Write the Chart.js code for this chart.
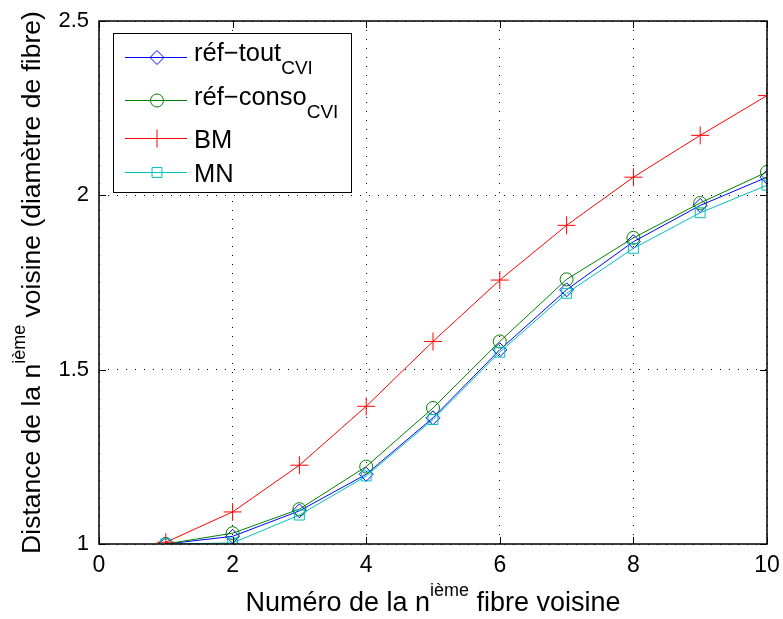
<!DOCTYPE html>
<html>
<head>
<meta charset="utf-8">
<script src="https://cdn.jsdelivr.net/npm/chart.js@4.4.0/dist/chart.umd.min.js"></script>
<style>
  html, body { margin: 0; padding: 0; background: #fff; }
  #wrap { width: 783px; height: 619px; }
</style>
</head>
<body>
<div id="wrap"><canvas id="chart" width="783" height="619"></canvas></div>
<script>
const rangs = [1, 2, 3, 4, 5, 6, 7, 8, 9, 10];
const refTout = [1.0, 1.022, 1.095, 1.200, 1.362, 1.557, 1.729, 1.867, 1.971, 2.052];
const refConso = [1.0, 1.031, 1.100, 1.222, 1.390, 1.581, 1.759, 1.878, 1.978, 2.067];
const bm = [1.005, 1.092, 1.226, 1.395, 1.581, 1.757, 1.914, 2.052, 2.172, 2.286];
const mn = [1.0, 1.003, 1.083, 1.195, 1.357, 1.550, 1.719, 1.848, 1.950, 2.029];
const xTicks = [0, 2, 4, 6, 8, 10];
const yTicks = [1, 1.5, 2, 2.5];

const POLICE = "'Liberation Sans', Arial, Helvetica, sans-serif";

// legende : [texte, indice, couleur, style, rayon]
const legende = [
  ['réf−tout', 'CVI', '#0000ff', 'rectRot', 7],
  ['réf−conso', 'CVI', '#008000', 'circle', 6.5],
  ['BM', '', '#ff0000', 'cross', 9],
  ['MN', '', '#00bfbf', 'rect', 7]
];

function serie(data, couleur, style, rayon, ordre) {
  return {
    data: rangs.map((r, i) => ({ x: r, y: data[i] })),
    borderColor: couleur,
    backgroundColor: 'rgba(0,0,0,0)',
    borderWidth: 1,
    pointStyle: style,
    pointRadius: rayon,
    pointBorderColor: couleur,
    pointBackgroundColor: 'rgba(0,0,0,0)',
    pointBorderWidth: 1,
    tension: 0,
    order: ordre
  };
}

// texte avec exposant / indice
function texteRiche(ctx, parts, x, y, taille, align, petit) {
  const fonts = parts.map(p => (p[1] ? petit : taille) + 'px ' + POLICE);
  let w = 0;
  parts.forEach((p, i) => { ctx.font = fonts[i]; w += ctx.measureText(p[0]).width; });
  let cx = align === 'center' ? x - w / 2 : x;
  ctx.textAlign = 'left';
  ctx.textBaseline = 'alphabetic';
  parts.forEach((p, i) => {
    ctx.font = fonts[i];
    const dy = p[1] === 'sup' ? -15 : p[1] === 'sub' ? 13 : 0;
    ctx.fillText(p[0], cx, y + dy);
    cx += ctx.measureText(p[0]).width;
  });
}

const habillage = {
  id: 'habillage',
  afterDraw(chart) {
    const { ctx, chartArea: a, scales: { x, y } } = chart;
    ctx.save();
    ctx.strokeStyle = '#000';
    ctx.fillStyle = '#000';

    // cadre + graduations vers l'interieur
    ctx.lineWidth = 1.5;
    ctx.strokeRect(a.left, a.top, a.right - a.left, a.bottom - a.top);
    ctx.lineWidth = 1;
    ctx.beginPath();
    x.ticks.forEach(t => {
      const px = Math.round(x.getPixelForValue(t.value)) + 0.5;
      ctx.moveTo(px, a.bottom); ctx.lineTo(px, a.bottom - 7);
      ctx.moveTo(px, a.top); ctx.lineTo(px, a.top + 7);
    });
    y.ticks.forEach(t => {
      const py = Math.round(y.getPixelForValue(t.value)) + 0.5;
      ctx.moveTo(a.left, py); ctx.lineTo(a.left + 7, py);
      ctx.moveTo(a.right, py); ctx.lineTo(a.right - 7, py);
    });
    ctx.stroke();

    // titres des axes
    texteRiche(ctx, [['Numéro de la n'], ['ième', 'sup'], [' fibre voisine']],
      (a.left + a.right) / 2, 611, 27, 'center', 18);
    ctx.save();
    ctx.translate(40, (a.top + a.bottom) / 2);
    ctx.rotate(-Math.PI / 2);
    texteRiche(ctx, [['Distance de la n'], ['ième', 'sup'], [' voisine (diamètre de fibre)']],
      0, 0, 26.5, 'center', 18);
    ctx.restore();

    // legende
    const bx = 113, by = 33, bw = 238, bh = 159;
    const yMarques = [57, 100, 138, 172];
    const yTextes = [61, 105, 148, 182];
    ctx.fillStyle = '#fff';
    ctx.fillRect(bx, by, bw, bh);
    ctx.lineWidth = 1;
    ctx.strokeStyle = '#000';
    ctx.strokeRect(bx + 0.5, by + 0.5, bw, bh);
    legende.forEach((l, i) => {
      const ym = yMarques[i] + 0.5;
      ctx.strokeStyle = l[2];
      ctx.lineWidth = 1;
      ctx.beginPath();
      ctx.moveTo(125, ym); ctx.lineTo(187, ym);
      ctx.stroke();
      ctx.fillStyle = 'rgba(0,0,0,0)';
      Chart.helpers.drawPoint(ctx, { pointStyle: l[3], radius: l[4], borderWidth: 1, rotation: 0 }, 157, ym);
      ctx.fillStyle = '#000';
      const parts = [[l[0]]];
      if (l[1]) parts.push([l[1], 'sub']);
      texteRiche(ctx, parts, 194, yTextes[i], 25.5, 'left', 19);
    });
    ctx.restore();
  }
};

const sansMarge = s => { s.paddingLeft = 0; s.paddingRight = 0; s.paddingTop = 0; s.paddingBottom = 0; };

new Chart(document.getElementById('chart'), {
  type: 'line',
  data: {
    datasets: [
      serie(refTout, '#0000ff', 'rectRot', 7, 4),
      serie(refConso, '#008000', 'circle', 6.5, 3),
      serie(bm, '#ff0000', 'cross', 9, 2),
      serie(mn, '#00bfbf', 'rect', 7, 1)
    ]
  },
  plugins: [habillage],
  options: {
    responsive: false,
    animation: false,
    devicePixelRatio: 1,
    layout: { padding: { left: 0, right: 16, top: 21, bottom: 0 } },
    plugins: { legend: { display: false }, tooltip: { enabled: false } },
    scales: {
      x: {
        type: 'linear',
        min: 0, max: 10,
        afterFit: s => { s.height = 75; sansMarge(s); },
        afterBuildTicks: s => { s.ticks = xTicks.map(v => ({ value: v })); },
        ticks: { color: '#000', padding: 8, font: { family: POLICE, size: 23 }, callback: v => String(v) },
        grid: { color: '#000', drawTicks: false, lineWidth: 1 },
        border: { display: false, dash: [1, 8] }
      },
      y: {
        type: 'linear',
        min: 1, max: 2.5,
        afterFit: s => { s.width = 99; sansMarge(s); },
        afterBuildTicks: s => { s.ticks = yTicks.map(v => ({ value: v })); },
        ticks: { color: '#000', padding: 10, font: { family: POLICE, size: 22 }, callback: v => String(v) },
        grid: { color: '#000', drawTicks: false, lineWidth: 1 },
        border: { display: false, dash: [1, 8] }
      }
    }
  }
});
</script>
</body>
</html>
